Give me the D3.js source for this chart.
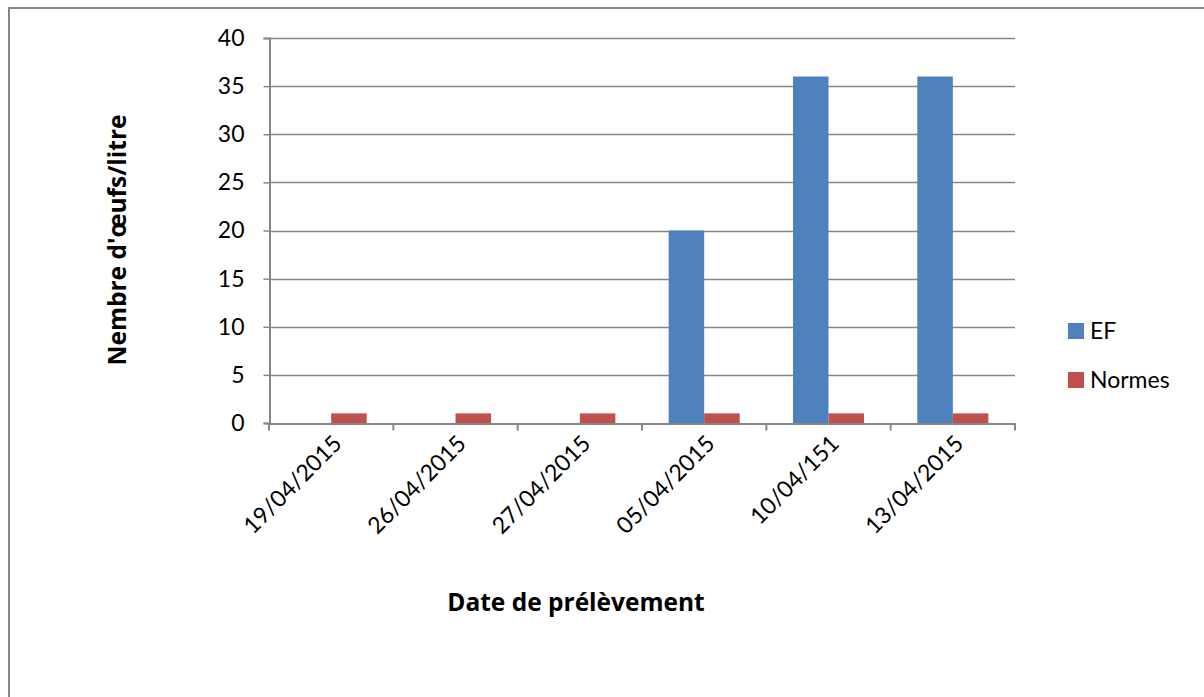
<!DOCTYPE html>
<html>
<head>
<meta charset="utf-8">
<script src="https://cdn.jsdelivr.net/npm/d3@7/dist/d3.min.js"></script>
<style>
  html, body { margin: 0; padding: 0; background: #fff; }
  svg { display: block; }
  text { font-family: Lato, "Open Sans", "Liberation Sans", sans-serif; fill: #000; }
  .axis-title { font-family: "Open Sans", Lato, sans-serif; font-weight: bold; }
</style>
</head>
<body>
<svg id="chart" width="1204" height="697"></svg>
<script>
// Sampling dates (category labels as written)
const dates = ["19/04/2015", "26/04/2015", "27/04/2015", "05/04/2015", "10/04/151", "13/04/2015"];
// Eggs per litre measured (EF) and the reference standard (Normes)
const efValues = [0, 0, 0, 20, 36, 36];
const normesValues = [1, 1, 1, 1, 1, 1];
const seriesNames = ["EF", "Normes"];
const yTicks = [0, 5, 10, 15, 20, 25, 30, 35, 40];

const colors = { EF: "#4F81BD", Normes: "#C0504D" };
const gridColor = "#868686";

const svg = d3.select("#chart");

// Outer frame of the chart area
svg.append("path")
  .attr("d", "M9,697 L9,8 L1204,8")
  .attr("fill", "none")
  .attr("stroke", gridColor)
  .attr("stroke-width", 2);

const plot = { left: 269, right: 1015, top: 38, bottom: 423 };

const x = d3.scaleBand().domain(dates).range([plot.left, plot.right]).padding(0);
const xInner = d3.scaleBand().domain(seriesNames).range([0, x.bandwidth()])
  .paddingInner(0).paddingOuter(0.75);
const y = d3.scaleLinear().domain([0, 40]).range([plot.bottom, plot.top]);

// Horizontal gridlines
svg.append("g").selectAll("line").data(yTicks.filter(d => d > 0)).join("line")
  .attr("x1", plot.left).attr("x2", plot.right)
  .attr("y1", d => Math.round(y(d)) + 0.5).attr("y2", d => Math.round(y(d)) + 0.5)
  .attr("stroke", gridColor).attr("stroke-width", 1.5);

// Bars
const rows = dates.map((d, i) => ({ date: d, EF: efValues[i], Normes: normesValues[i] }));
const groups = svg.append("g").selectAll("g").data(rows).join("g")
  .attr("transform", d => `translate(${x(d.date)},0)`);
groups.selectAll("rect")
  .data(d => seriesNames.map(s => ({ key: s, value: d[s] })))
  .join("rect")
  .attr("x", d => xInner(d.key))
  .attr("width", xInner.bandwidth())
  .attr("y", d => y(d.value))
  .attr("height", d => y(0) - y(d.value))
  .attr("fill", d => colors[d.key]);

// Y axis
const yAxis = d3.axisLeft(y).tickValues(yTicks).tickSize(6).tickPadding(19);
const gy = svg.append("g").attr("transform", `translate(${plot.left + 0.5},0)`).call(yAxis);
gy.select(".domain").attr("stroke", gridColor).attr("stroke-width", 2);
gy.selectAll(".tick line").attr("stroke", gridColor).attr("stroke-width", 1.5);
gy.selectAll(".tick text").attr("font-size", 23).attr("font-family", "Lato, sans-serif").attr("fill", "#000");

// X axis with ticks at category boundaries
const xAxis = d3.axisBottom(x).tickSize(0).tickFormat("");
const gx = svg.append("g").attr("transform", `translate(0,${plot.bottom + 0.5})`).call(xAxis);
gx.select(".domain").attr("stroke", gridColor).attr("stroke-width", 2);
const boundaries = dates.map(d => x(d)).concat([plot.right]);
gx.selectAll("line.bound").data(boundaries).join("line")
  .attr("class", "bound")
  .attr("x1", d => d).attr("x2", d => d)
  .attr("y1", 0).attr("y2", 7)
  .attr("stroke", gridColor).attr("stroke-width", 2);

// Rotated category labels
svg.append("g").selectAll("text").data(dates).join("text")
  .attr("transform", d => `translate(${x(d) + x.bandwidth() / 2 + 12},${plot.bottom + 22}) rotate(-45)`)
  .attr("text-anchor", "end")
  .attr("font-size", 23)
  .text(d => d);

// Axis titles
svg.append("text")
  .attr("class", "axis-title")
  .attr("transform", "translate(126,240) rotate(-90)")
  .attr("text-anchor", "middle")
  .attr("font-size", 24.5)
  .text("Nembre d'œufs/litre");

svg.append("text")
  .attr("class", "axis-title")
  .attr("x", 576).attr("y", 611)
  .attr("text-anchor", "middle")
  .attr("font-size", 24.5)
  .text("Date de prélèvement");

// Legend
const legend = svg.append("g").selectAll("g").data(seriesNames).join("g")
  .attr("transform", (d, i) => `translate(1068,${323 + i * 49})`);
legend.append("rect").attr("width", 16).attr("height", 16).attr("fill", d => colors[d]);
legend.append("text").attr("x", 22).attr("y", 16).attr("font-size", 23).text(d => d);
</script>
</body>
</html>
